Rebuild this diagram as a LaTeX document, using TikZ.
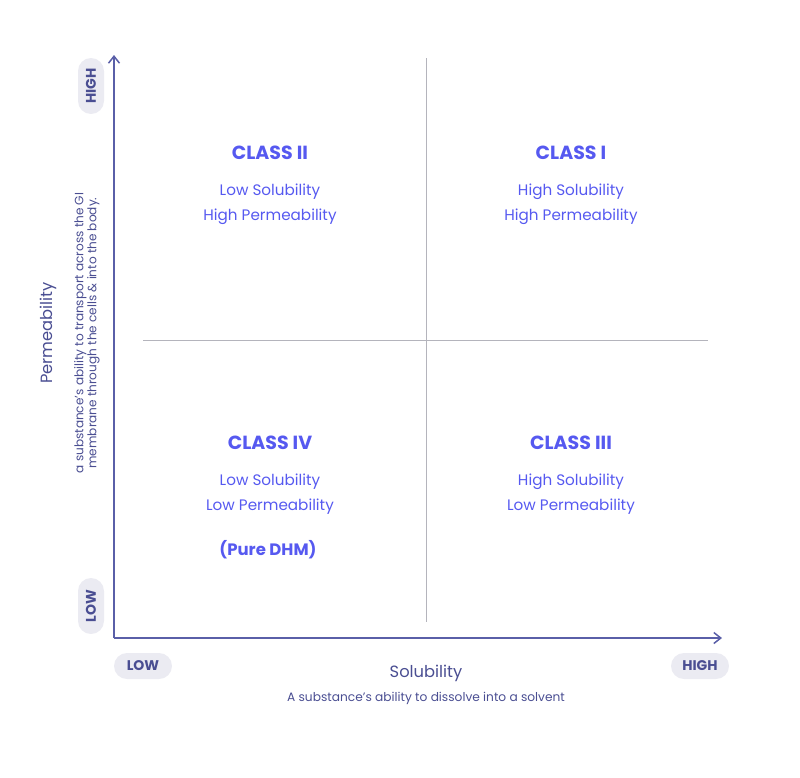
\documentclass[tikz,border=0pt]{standalone}
\usepackage{fontspec}
\setmainfont{Poppins}
\usepackage{xcolor}
\usetikzlibrary{calc,arrows.meta}
\definecolor{axisblue}{HTML}{5A5FA8}
\definecolor{labelblue}{HTML}{4A4E92}
\definecolor{classblue}{HTML}{5659F0}
\definecolor{pillgray}{HTML}{EBEBF2}
\definecolor{divgray}{HTML}{B4B4BC}

\begin{document}
\begin{tikzpicture}[x=1pt,y=-1pt,
  pill/.style={fill=pillgray,rounded corners=13pt,text=labelblue,
    font=\fontsize{14}{14}\selectfont\bfseries,inner sep=0pt},
  title/.style={text=classblue,font=\fontsize{19}{19}\selectfont\bfseries},
  body/.style={text=classblue,font=\fontsize{15.2}{25}\selectfont,align=center}]
% chart corners
\newcommand{\ox}{114}
\newcommand{\oy}{638}
\newcommand{\midx}{426}
\newcommand{\midy}{340}
\useasboundingbox (0,0) rectangle (800,777);

% Axes
\coordinate (origin) at (\ox,\oy);
\coordinate (ytip) at (\ox,55);
\coordinate (xtip) at (722,\oy);
\draw[axisblue,line width=1.5pt,->,>={Straight Barb[length=7pt,width=11pt]}] (origin)--(ytip);
\draw[axisblue,line width=1.5pt,->,>={Straight Barb[length=7pt,width=11pt]}] (origin)--(xtip);
% Dividers
\coordinate (vtop) at (\midx,58);
\coordinate (vbot) at (\midx,622);
\coordinate (hleft) at (143,\midy);
\coordinate (hright) at (708,\midy);
\draw[divgray,line width=0.9pt] (vtop)--(vbot);
\draw[divgray,line width=0.9pt] (hleft)--(hright);

% Pills
\node[pill,minimum width=26pt,minimum height=56pt] (yhigh) at (91,86) {\rotatebox{90}{HIGH}};
\node[pill,minimum width=26pt,minimum height=56pt] (ylow) at (91,606) {\rotatebox{90}{LOW}};
\node[pill,minimum width=58pt,minimum height=26pt] (xlow) at (143,666) {LOW};
\node[pill,minimum width=58pt,minimum height=26pt] (xhigh) at (700,666) {HIGH};

% Axis labels
\node[rotate=90,text=labelblue,font=\fontsize{16.3}{16.3}\selectfont] (perm) at (48,333) {Permeability};
\node[rotate=90,text=labelblue,font=\fontsize{12.1}{13}\selectfont,align=center] (permsub) at (87,333)
  {a substance's ability to transport across the GI\\membrane through the cells \& into the body.};
\node[text=labelblue,font=\fontsize{16.3}{16.3}\selectfont] (sol) at (426,673) {Solubility};
\node[text=labelblue,font=\fontsize{12.2}{12.2}\selectfont] (solsub) at (426,698) {A substance's ability to dissolve into a solvent};

% Classes
\node[title] (c2) at (270,153) {CLASS II};
\node[body] (c2txt) at (270,204) {Low Solubility\\High Permeability};
\node[title] (c1) at (571,153) {CLASS I};
\node[body] (c1txt) at (571,204) {High Solubility\\High Permeability};
\node[title] (c4) at (270,443) {CLASS IV};
\node[body] (c4txt) at (270,494) {Low Solubility\\Low Permeability};
\node[title,font=\fontsize{16.5}{16.5}\selectfont\bfseries] (dhm) at (268,550) {(Pure DHM)};
\node[title] (c3) at (571,443) {CLASS III};
\node[body] (c3txt) at (571,494) {High Solubility\\Low Permeability};
\end{tikzpicture}
\end{document}
